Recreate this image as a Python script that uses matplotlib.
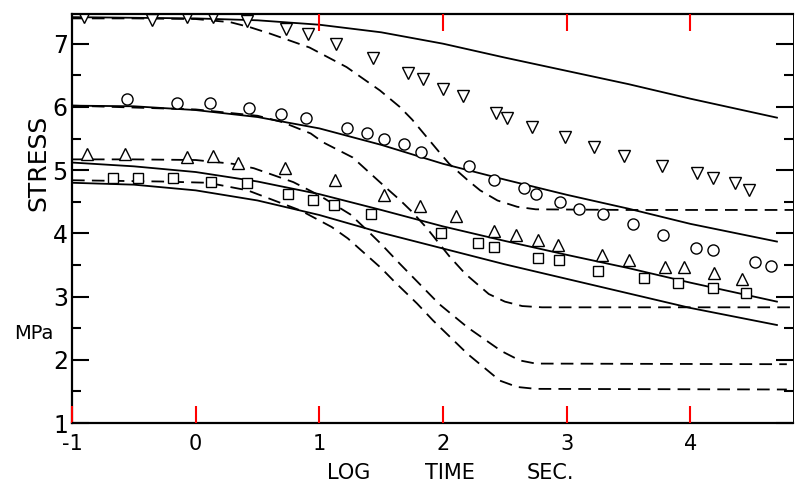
import numpy as np
import matplotlib.pyplot as plt

plt.rcParams['axes.unicode_minus'] = False
plt.rcParams['font.family'] = 'DejaVu Sans'

## measured points (log time, stress MPa)
tri_down_x = [-0.905, -0.356, -0.073, 0.137, 0.412, 0.728, 0.905, 1.132, 1.431, 1.714, 1.835,
              1.997, 2.158, 2.425, 2.514, 2.716, 2.983, 3.217, 3.460, 3.767, 4.050, 4.179, 4.357, 4.471]
tri_down_y = [7.43, 7.37, 7.43, 7.42, 7.36, 7.23, 7.16, 6.99, 6.77, 6.53, 6.44,
              6.29, 6.17, 5.91, 5.83, 5.68, 5.52, 5.37, 5.22, 5.06, 4.95, 4.87, 4.79, 4.69]

circ_x = [-0.558, -0.154, 0.113, 0.428, 0.687, 0.889, 1.221, 1.382, 1.520, 1.681, 1.819, 2.207,
          2.409, 2.652, 2.749, 2.943, 3.096, 3.290, 3.533, 3.775, 4.042, 4.179, 4.519, 4.648]
circ_y = [6.12, 6.06, 6.06, 5.99, 5.88, 5.83, 5.66, 5.58, 5.50, 5.42, 5.28, 5.06,
          4.84, 4.71, 4.63, 4.50, 4.39, 4.30, 4.15, 3.98, 3.77, 3.73, 3.54, 3.49]

tri_up_x = [-0.881, -0.574, -0.073, 0.137, 0.340, 0.719, 1.124, 1.520, 1.811, 2.102,
            2.409, 2.587, 2.765, 2.927, 3.282, 3.500, 3.791, 3.945, 4.188, 4.414]
tri_up_y = [5.25, 5.25, 5.20, 5.22, 5.12, 5.04, 4.84, 4.61, 4.44, 4.28,
            4.04, 3.98, 3.90, 3.82, 3.66, 3.58, 3.47, 3.47, 3.38, 3.27]

sq_x = [-0.671, -0.469, -0.186, 0.121, 0.412, 0.744, 0.946, 1.116, 1.415, 1.981,
        2.280, 2.409, 2.765, 2.935, 3.250, 3.622, 3.897, 4.180, 4.446]
sq_y = [4.88, 4.88, 4.87, 4.82, 4.79, 4.63, 4.53, 4.45, 4.30, 4.00,
        3.85, 3.79, 3.61, 3.58, 3.41, 3.30, 3.22, 3.14, 3.06]

## model curves, solid
s_x = [-1, -0.5, 0, 0.5, 1.0, 1.5, 2.0, 2.5, 3.0, 3.5, 4.0, 4.7]
s1_y = [7.42, 7.41, 7.40, 7.37, 7.30, 7.18, 7.00, 6.78, 6.57, 6.36, 6.13, 5.83]
s2_y = [6.02, 6.01, 5.95, 5.84, 5.66, 5.40, 5.10, 4.85, 4.61, 4.39, 4.15, 3.87]
s3_y = [5.12, 5.06, 4.97, 4.82, 4.62, 4.37, 4.11, 3.88, 3.66, 3.45, 3.22, 2.92]
s4_y = [4.80, 4.77, 4.68, 4.52, 4.29, 4.01, 3.76, 3.51, 3.28, 3.05, 2.82, 2.55]

## model curves, dashed
d1_x = [-1, -0.5, 0, 0.28, 0.44, 0.6, 0.92, 1.22, 1.49, 1.65, 1.75, 1.98, 2.05, 2.2, 2.3, 2.44, 2.6, 2.75, 3.5, 4.83]
d1_y = [7.40, 7.40, 7.39, 7.34, 7.26, 7.16, 6.94, 6.63, 6.26, 6.00, 5.80, 5.26, 5.10, 4.84, 4.68, 4.52, 4.42, 4.38, 4.37, 4.37]
d2_x = [-1, 0, 0.5, 0.7, 0.93, 1.03, 1.27, 1.54, 1.65, 1.75, 1.87, 2.05, 2.18, 2.37, 2.5, 2.64, 2.8, 4.83]
d2_y = [6.02, 5.96, 5.86, 5.76, 5.58, 5.44, 5.20, 4.72, 4.53, 4.34, 4.08, 3.64, 3.36, 3.04, 2.92, 2.85, 2.83, 2.83]
d3_x = [-1, -0.5, 0, 0.3, 0.47, 0.79, 1.0, 1.25, 1.38, 1.5, 1.65, 1.84, 1.97, 2.2, 2.47, 2.62, 2.75, 4.78]
d3_y = [5.17, 5.17, 5.16, 5.10, 5.03, 4.81, 4.60, 4.30, 4.06, 3.83, 3.52, 3.14, 2.88, 2.51, 2.14, 1.99, 1.94, 1.93]
d4_x = [-1, -0.28, 0.1, 0.42, 0.85, 1.1, 1.23, 1.5, 1.6, 1.79, 1.92, 2.2, 2.46, 2.6, 2.75, 4.78]
d4_y = [4.84, 4.82, 4.80, 4.68, 4.36, 4.10, 3.92, 3.45, 3.25, 2.89, 2.62, 2.09, 1.67, 1.57, 1.54, 1.53]

x_ticks = [-1, 0, 1, 2, 3, 4]

fig = plt.figure(figsize=(7.95, 4.87), dpi=100)
ax = fig.add_axes([0.0906, 0.1314, 0.9069, 0.8399])
ax.set_axisbelow(False)

for yy in [s1_y, s2_y, s3_y, s4_y]:
    ax.plot(s_x, yy, color="k", lw=1.3)
for xx, yy in [(d1_x, d1_y), (d2_x, d2_y), (d3_x, d3_y), (d4_x, d4_y)]:
    ax.plot(xx, yy, color="k", lw=1.3, dashes=(7, 4))

mk = dict(linestyle="none", mfc="white", mec="k", mew=1.0)
ax.plot(tri_down_x, tri_down_y, marker="v", ms=8, **mk)
ax.plot(circ_x, circ_y, marker="o", ms=8, **mk)
ax.plot(tri_up_x, tri_up_y, marker="^", ms=8, **mk)
ax.plot(sq_x, sq_y, marker="s", ms=7.5, **mk)

ax.set_xlim(-1, 4.83)
ax.set_ylim(1, 7.47)
ax.set_xticks(x_ticks)
ax.set_yticks([1, 2, 3, 4, 5, 6, 7])
ax.set_yticks(np.arange(1.5, 7.5, 1.0), minor=True)
ax.tick_params(axis="both", which="major", direction="in", right=True, top=True,
               length=12, width=1.5, labelsize=17, pad=3, color="k")
ax.tick_params(axis="y", which="minor", direction="in", right=True, length=6.5, width=1.5, color="k")
ax.tick_params(axis="x", which="major", labelsize=15, pad=8, color="red")
for side in ["left", "bottom", "top"]:
    ax.spines[side].set_linewidth(1.6)
ax.spines["right"].set_linewidth(0.7)

# no top ticks at -1 and 0
for t in ax.xaxis.get_major_ticks()[:2]:
    t.tick2line.set_visible(False)

fig.text(0.048, 0.665, "STRESS", rotation=90, fontsize=18, ha="center", va="center")
fig.text(0.043, 0.316, "MPa", fontsize=14, ha="center", va="center")
fig.text(0.438, 0.029, "LOG", fontsize=15, ha="center", va="center")
fig.text(0.566, 0.029, "TIME", fontsize=15, ha="center", va="center")
fig.text(0.692, 0.029, "SEC.", fontsize=15, ha="center", va="center")

plt.savefig("out.png", dpi=100)
